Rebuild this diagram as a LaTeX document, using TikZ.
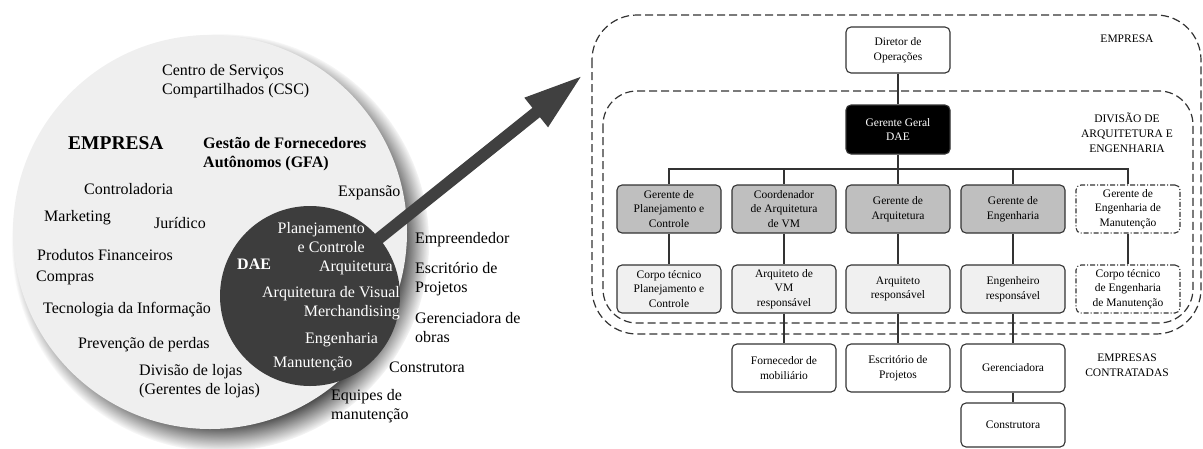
\documentclass[tikz,border=0pt]{standalone}
\usepackage{fontspec}
\setmainfont{Liberation Serif}
\usetikzlibrary{arrows.meta,shadows,fadings}
\definecolor{circlegray}{HTML}{EFEFEF}
\definecolor{darkcircle}{HTML}{3D3D3D}
\definecolor{arrowgray}{HTML}{404040}
\definecolor{mgrgray}{HTML}{BFBFBF}
\definecolor{stafffill}{HTML}{F0F0F0}
\definecolor{linegray}{HTML}{333333}
\begin{document}
\begin{tikzpicture}
[x=1pt,y=-1pt,
orgbox/.style={draw=linegray,line width=1.1pt,rounded corners=5pt,minimum width=104pt,minimum height=48pt,inner sep=1pt,align=center,font=\fontsize{11.5}{14.5}\selectfont},
mgrbox/.style={orgbox,fill=mgrgray},
staffbox/.style={orgbox,fill=stafffill},
extbox/.style={orgbox,fill=white},
planbox/.style={orgbox,fill=white,dash pattern=on 5pt off 2pt on 1pt off 2pt},
link/.style={draw=linegray,line width=1.1pt},
zone/.style={draw=linegray,line width=1.2pt,dash pattern=on 8pt off 4pt},
tag/.style={align=center,font=\fontsize{11.5}{15}\selectfont},
lbl/.style={inner sep=0pt,align=left,font=\fontsize{16}{19}\selectfont},
wlbl/.style={lbl,text=white},
bigarrow/.style={draw=arrowgray,line width=12pt,-{Triangle[length=60pt,width=34pt]}}]
\useasboundingbox (0,0) rectangle (1203,448);

\node (empresa) at (210,232) [circle,fill=circlegray,minimum size=394pt,inner sep=0pt,
  general shadow={shadow scale=1.06,shadow xshift=10pt,shadow yshift=-10pt,fill=black!80,path fading={circle with fuzzy edge 15 percent}}] {};
\coordinate (tail) at (372,244);
\coordinate (tip) at (583,75);
\draw[bigarrow] (tail) -- (tip);
\node (dae) at (310,296) [circle,fill=darkcircle,minimum size=180pt,inner sep=0pt] {};

\node (csc) at (162,81.5) [lbl,anchor=west] {Centro de Serviços\\Compartilhados (CSC)};
\node (emp) at (68,143) [lbl,anchor=west,font=\fontsize{19.5}{23}\selectfont\bfseries] {EMPRESA};
\node (gfa) at (203,154.5) [lbl,anchor=west,font=\fontsize{16}{19}\selectfont\bfseries] {Gestão de Fornecedores\\Autônomos (GFA)};
\node (ctrl) at (84,189) [lbl,anchor=west] {Controladoria};
\node (exp) at (338,193) [lbl,anchor=west] {Expansão};
\node (mkt) at (44,218) [lbl,anchor=west] {Marketing};
\node (jur) at (154,223) [lbl,anchor=west] {Jurídico};
\node (prod) at (37,255) [lbl,anchor=west] {Produtos Financeiros};
\node (comp) at (36,278) [lbl,anchor=west] {Compras};
\node (ti) at (43,310) [lbl,anchor=west] {Tecnologia da Informação};
\node (prev) at (78,345) [lbl,anchor=west] {Prevenção de perdas};
\node (lojas) at (139,381.5) [lbl,anchor=west] {Divisão de lojas\\(Gerentes de lojas)};
\node (equip) at (331,406.5) [lbl,anchor=west] {Equipes de\\manutenção};
\node (empr) at (415,240) [lbl,anchor=west] {Empreendedor};
\node (escr) at (415,279.5) [lbl,anchor=west] {Escritório de\\Projetos};
\node (gere) at (415,328) [lbl,anchor=west] {Gerenciadora de\\obras};
\node (constr) at (389,367) [lbl,anchor=west] {Construtora};

\node (plan) at (365,237.5) [wlbl,anchor=east,align=right] {Planejamento\\e Controle};
\node (daetxt) at (237,264) [wlbl,anchor=west,font=\fontsize{16}{19}\selectfont\bfseries] {DAE};
\node (arq) at (393,268) [wlbl,anchor=east] {Arquitetura};
\node (avm) at (400,303) [wlbl,anchor=east,align=right] {Arquitetura de Visual\\Merchandising};
\node (eng) at (305,340) [wlbl,anchor=west] {Engenharia};
\node (man) at (273,364) [wlbl,anchor=west] {Manutenção};

\draw[zone,rounded corners=45pt] (592,15) rectangle (1201,334);
\draw[zone,rounded corners=34pt] (603,91) rectangle (1193,323);

\node (dir) at (898,50) [extbox,minimum height=46pt] {Diretor de\\Operações};
\node (gg) at (898,129.5) [orgbox,fill=black,text=white,minimum height=49pt] {Gerente Geral\\DAE};
\node (gp) at (669,209) [mgrbox] {Gerente de\\Planejamento e\\Controle};
\node (cv) at (784,209) [mgrbox] {Coordenador\\de Arquitetura\\de VM};
\node (ga) at (898,209) [mgrbox] {Gerente de\\Arquitetura};
\node (ge) at (1013,209) [mgrbox] {Gerente de\\Engenharia};
\node (gm) at (1128,209) [planbox] {Gerente de\\Engenharia de\\Manutenção};
\node (tp) at (669,289) [staffbox] {Corpo técnico\\Planejamento e\\Controle};
\node (av) at (784,289) [staffbox] {Arquiteto de\\VM\\responsável};
\node (ar) at (898,289) [staffbox] {Arquiteto\\responsável};
\node (er) at (1013,289) [staffbox] {Engenheiro\\responsável};
\node (tm) at (1128,289) [planbox] {Corpo técnico\\de Engenharia\\de Manutenção};
\node (fm) at (784,368) [extbox] {Fornecedor de\\mobiliário};
\node (ep) at (898,368) [extbox] {Escritório de\\Projetos};
\node (gr) at (1013,368) [extbox] {Gerenciadora};
\node (ct) at (1013,425) [extbox,minimum height=44pt] {Construtora};

\node (lempresa) at (1127,39) [tag] {EMPRESA};
\node (ldiv) at (1127,133) [tag] {DIVISÃO DE\\ARQUITETURA E\\ENGENHARIA};
\node (lcontr) at (1127,365) [tag] {EMPRESAS\\CONTRATADAS};

\coordinate (bus) at (898,169);
\draw[link] (dir) -- (gg);
\draw[link] (gg) -- (bus);
\foreach \m in {gp,cv,ga,ge,gm}
  \draw[link] (bus) -| (\m);
\draw[link] (gp) -- (tp);
\draw[link] (cv) -- (av);
\draw[link] (ga) -- (ar);
\draw[link] (ge) -- (er);
\draw[link] (gm) -- (tm);
\draw[link] (av) -- (fm);
\draw[link] (ar) -- (ep);
\draw[link] (er) -- (gr);
\draw[link] (gr) -- (ct);

\end{tikzpicture}
\end{document}
